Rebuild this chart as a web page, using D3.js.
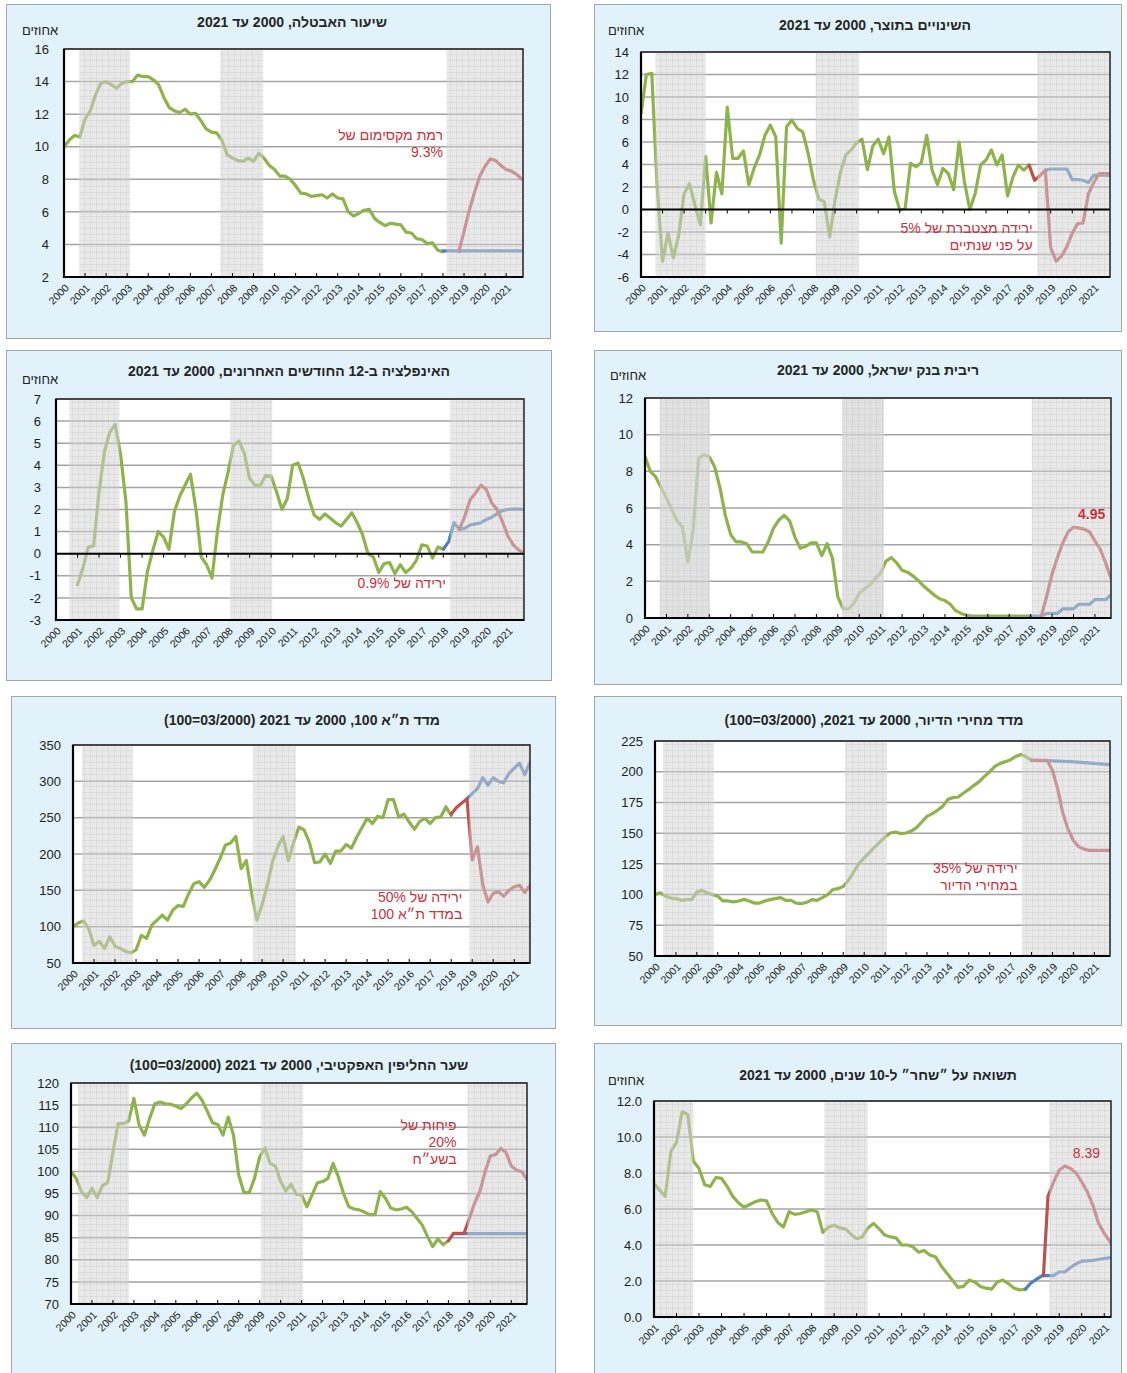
<!DOCTYPE html>
<html>
<head>
<meta charset="utf-8">
<script src="https://cdn.jsdelivr.net/npm/d3@7"></script>
<style>
  body { margin: 0; background: #fff; }
  svg text { font-family: "Liberation Sans", Arial, "DejaVu Sans", sans-serif; }
</style>
</head>
<body>
<svg id="chart" width="1127" height="1373"></svg>
<script>
// ---- data: [year, value] ----
const yearTicks = [2000, 2001, 2002, 2003, 2004, 2005, 2006, 2007, 2008, 2009, 2010,
  2011, 2012, 2013, 2014, 2015, 2016, 2017, 2018, 2019, 2020, 2021];
const yearTicksFrom2001 = yearTicks.slice(1);

// unemployment rate
const unempHist = [[2000,10.0],[2000.25,10.4],[2000.5,10.7],[2000.75,10.6],[2001,11.7],[2001.25,12.2],[2001.5,13.2],[2001.75,13.9],
  [2002,14.0],[2002.25,13.8],[2002.5,13.6],[2002.75,13.9],[2003,14.0],[2003.25,14.0],[2003.5,14.4],[2003.75,14.3],
  [2004,14.3],[2004.25,14.1],[2004.5,13.8],[2004.75,13.0],[2005,12.4],[2005.25,12.2],[2005.5,12.1],[2005.75,12.3],
  [2006,12.0],[2006.25,12.05],[2006.5,11.6],[2006.75,11.1],[2007,10.9],[2007.25,10.85],[2007.5,10.4],[2007.75,9.5],
  [2008,9.3],[2008.25,9.15],[2008.5,9.1],[2008.75,9.3],[2009,9.1],[2009.25,9.6],[2009.5,9.3],[2009.75,8.85],
  [2010,8.6],[2010.25,8.2],[2010.5,8.2],[2010.75,8.0],[2011,7.6],[2011.25,7.15],[2011.5,7.1],[2011.75,6.95],
  [2012,7.0],[2012.25,7.05],[2012.5,6.85],[2012.75,7.1],[2013,6.85],[2013.25,6.8],[2013.5,6.0],[2013.75,5.75],
  [2014,5.9],[2014.25,6.1],[2014.5,6.15],[2014.75,5.6],[2015,5.35],[2015.25,5.15],[2015.5,5.3],[2015.75,5.25],
  [2016,5.2],[2016.25,4.75],[2016.5,4.7],[2016.75,4.35],[2017,4.3],[2017.25,4.05],[2017.5,4.1],[2017.75,3.65],[2018,3.55]];
const unempBase = [[2018,3.6],[2021.75,3.6]];
const unempStress = [[2018.75,3.55],[2019,4.8],[2019.25,6.1],[2019.5,7.2],[2019.75,8.2],[2020,8.8],[2020.25,9.25],
  [2020.5,9.15],[2020.75,8.85],[2021,8.6],[2021.25,8.5],[2021.5,8.3],[2021.75,8.0]];

// GDP change
const gdpHist = [[2000,8.5],[2000.25,12.0],[2000.5,12.1],[2000.75,2.0],[2001,-4.6],[2001.25,-2.1],[2001.5,-4.3],[2001.75,-2.25],
  [2002,1.4],[2002.25,2.3],[2002.5,0.4],[2002.75,-1.35],[2003,4.7],[2003.25,-1.2],[2003.5,3.3],[2003.75,1.4],
  [2004,9.1],[2004.25,4.55],[2004.5,4.55],[2004.75,5.2],[2005,2.2],[2005.25,3.7],[2005.5,4.85],[2005.75,6.6],
  [2006,7.5],[2006.25,6.45],[2006.5,-3.0],[2006.75,7.35],[2007,7.95],[2007.25,7.2],[2007.5,6.9],[2007.75,5.0],
  [2008,2.6],[2008.25,0.9],[2008.5,0.7],[2008.75,-2.45],[2009,0.85],[2009.25,3.3],[2009.5,4.85],[2009.75,5.3],
  [2010,5.95],[2010.25,6.25],[2010.5,3.55],[2010.75,5.65],[2011,6.25],[2011.25,4.95],[2011.5,6.45],[2011.75,1.6],
  [2012,-0.05],[2012.25,0.1],[2012.5,4.1],[2012.75,3.8],[2013,4.15],[2013.25,6.6],[2013.5,3.5],[2013.75,2.2],
  [2014,3.65],[2014.25,3.2],[2014.5,1.75],[2014.75,6.0],[2015,2.45],[2015.25,0.0],[2015.5,1.45],[2015.75,3.95],
  [2016,4.4],[2016.25,5.3],[2016.5,3.95],[2016.75,4.85],[2017,1.2],[2017.25,2.9],[2017.5,3.95],[2017.75,3.5],[2018,3.95]];
const gdpBase = [[2018.75,3.5],[2019,3.6],[2019.25,3.6],[2019.5,3.6],[2019.75,3.6],[2020,2.65],[2020.25,2.65],
  [2020.5,2.6],[2020.75,2.4],[2021,3.05],[2021.25,3.05],[2021.5,3.05],[2021.75,3.0]];
const gdpStress = [[2018,3.95],[2018.25,2.6],[2018.5,3.0],[2018.75,3.5],[2019,-3.4],[2019.25,-4.6],[2019.5,-4.15],
  [2019.75,-3.3],[2020,-2.1],[2020.25,-1.25],[2020.5,-1.2],[2020.75,1.4],[2021,2.4],[2021.25,3.2],[2021.5,3.2],[2021.75,3.2]];

// inflation, last 12 months
const inflHist = [[2001,-1.4],[2001.25,-0.65],[2001.5,0.3],[2001.75,0.35],[2002,2.8],[2002.25,4.6],[2002.5,5.5],[2002.75,5.85],
  [2003,4.5],[2003.25,2.35],[2003.5,-2.0],[2003.75,-2.5],[2004,-2.5],[2004.25,-0.8],[2004.5,0.15],[2004.75,1.0],
  [2005,0.75],[2005.25,0.2],[2005.5,1.9],[2005.75,2.6],[2006,3.1],[2006.25,3.6],[2006.5,2.05],[2006.75,-0.15],
  [2007,-0.5],[2007.25,-1.1],[2007.5,1.0],[2007.75,2.65],[2008,3.7],[2008.25,4.9],[2008.5,5.1],[2008.75,4.55],
  [2009,3.4],[2009.25,3.1],[2009.5,3.1],[2009.75,3.55],[2010,3.5],[2010.25,2.8],[2010.5,2.0],[2010.75,2.5],
  [2011,4.0],[2011.25,4.1],[2011.5,3.4],[2011.75,2.5],[2012,1.75],[2012.25,1.55],[2012.5,1.8],[2012.75,1.6],
  [2013,1.4],[2013.25,1.25],[2013.5,1.55],[2013.75,1.85],[2014,1.4],[2014.25,0.85],[2014.5,0.0],[2014.75,-0.15],
  [2015,-0.85],[2015.25,-0.45],[2015.5,-0.4],[2015.75,-0.9],[2016,-0.5],[2016.25,-0.85],[2016.5,-0.65],[2016.75,-0.3],
  [2017,0.4],[2017.25,0.35],[2017.5,-0.2],[2017.75,0.3],[2018,0.2]];
const inflBase = [[2018,0.2],[2018.25,0.55],[2018.5,1.4],[2018.75,1.1],[2019,1.15],[2019.25,1.3],[2019.5,1.35],[2019.75,1.4],
  [2020,1.55],[2020.25,1.65],[2020.5,1.8],[2020.75,1.95],[2021,2.0],[2021.25,2.02],[2021.5,2.02],[2021.75,2.0]];
const inflStress = [[2018.75,1.1],[2019,1.7],[2019.25,2.45],[2019.5,2.75],[2019.75,3.1],[2020,2.9],[2020.25,2.3],
  [2020.5,2.0],[2020.75,1.45],[2021,0.8],[2021.25,0.4],[2021.5,0.17],[2021.75,0.02]];

// Bank of Israel rate
const rateHist = [[2000,8.8],[2000.25,8.0],[2000.5,7.7],[2000.75,7.1],[2001,6.55],[2001.25,5.9],[2001.5,5.3],[2001.75,4.95],
  [2002,3.05],[2002.25,4.8],[2002.5,8.7],[2002.75,8.9],[2003,8.8],[2003.25,8.25],[2003.5,7.1],[2003.75,5.6],
  [2004,4.55],[2004.25,4.15],[2004.5,4.15],[2004.75,4.05],[2005,3.6],[2005.25,3.6],[2005.5,3.6],[2005.75,4.15],
  [2006,4.9],[2006.25,5.35],[2006.5,5.6],[2006.75,5.3],[2007,4.4],[2007.25,3.8],[2007.5,3.9],[2007.75,4.1],
  [2008,4.1],[2008.25,3.4],[2008.5,4.05],[2008.75,3.25],[2009,1.15],[2009.25,0.5],[2009.5,0.5],[2009.75,0.8],
  [2010,1.35],[2010.25,1.6],[2010.5,1.8],[2010.75,2.15],[2011,2.45],[2011.25,3.1],[2011.5,3.3],[2011.75,3.0],
  [2012,2.6],[2012.25,2.5],[2012.5,2.3],[2012.75,2.05],[2013,1.75],[2013.25,1.5],[2013.5,1.25],[2013.75,1.05],
  [2014,0.95],[2014.25,0.75],[2014.5,0.4],[2014.75,0.25],[2015,0.15],[2015.25,0.1],[2016,0.1],[2017,0.1],[2018,0.1]];
const rateBase = [[2018,0.1],[2018.5,0.1],[2018.75,0.25],[2019.25,0.25],[2019.5,0.5],[2020,0.5],[2020.25,0.75],
  [2020.75,0.75],[2021,1.0],[2021.5,1.0],[2021.75,1.25]];
const rateStress = [[2018.5,0.1],[2018.75,1.2],[2019,2.4],[2019.25,3.3],[2019.5,4.1],[2019.75,4.7],[2020,4.95],
  [2020.25,4.9],[2020.5,4.85],[2020.75,4.7],[2021,4.2],[2021.25,3.75],[2021.5,3.0],[2021.75,2.15]];

// TA-100 index
const taHist = [[2000,100],[2000.25,105],[2000.5,108],[2000.75,97],[2001,74],[2001.25,80],[2001.5,70],[2001.75,86],
  [2002,73],[2002.25,70],[2002.5,66],[2002.75,64],[2003,68],[2003.25,88],[2003.5,84],[2003.75,102],
  [2004,109],[2004.25,116],[2004.5,109],[2004.75,123],[2005,129],[2005.25,128],[2005.5,145],[2005.75,159],
  [2006,162],[2006.25,154],[2006.5,164],[2006.75,178],[2007,194],[2007.25,212],[2007.5,215],[2007.75,224],
  [2008,180],[2008.25,191],[2008.5,146],[2008.75,109],[2009,130],[2009.25,157],[2009.5,190],[2009.75,210],
  [2010,224],[2010.25,191],[2010.5,216],[2010.75,237],[2011,233],[2011.25,216],[2011.5,188],[2011.75,189],
  [2012,200],[2012.25,187],[2012.5,204],[2012.75,204],[2013,213],[2013.25,208],[2013.5,223],[2013.75,236],
  [2014,249],[2014.25,242],[2014.5,252],[2014.75,250],[2015,275],[2015.25,275],[2015.5,251],[2015.75,255],
  [2016,244],[2016.25,234],[2016.5,245],[2016.75,249],[2017,242],[2017.25,250],[2017.5,251],[2017.75,265],[2018,253]];
const taBase = [[2018.75,276],[2019,283],[2019.25,290],[2019.5,305],[2019.75,295],[2020,305],[2020.25,300],
  [2020.5,298],[2020.75,311],[2021,318],[2021.25,325],[2021.5,309],[2021.75,326]];
const taStress = [[2018,255],[2018.25,264],[2018.5,270],[2018.75,276],[2019,192],[2019.25,210],[2019.5,158],
  [2019.75,134],[2020,146],[2020.25,148],[2020.5,142],[2020.75,150],[2021,155],[2021.25,157],[2021.5,147],[2021.75,157]];

// housing price index
const houseHist = [[2000,100],[2000.25,101.5],[2000.5,98.6],[2000.75,97.2],[2001,96.7],[2001.25,95.3],[2001.5,95.9],[2001.75,95.9],
  [2002,102],[2002.25,103.4],[2002.5,101.3],[2002.75,99.9],[2003,98.6],[2003.25,94.8],[2003.5,94.8],[2003.75,94],
  [2004,94.8],[2004.25,96.1],[2004.5,94.8],[2004.75,93.1],[2005,93.1],[2005.25,94.8],[2005.5,95.9],[2005.75,96.7],
  [2006,97.5],[2006.25,95.3],[2006.5,95.3],[2006.75,93.1],[2007,92.6],[2007.25,93.7],[2007.5,95.9],[2007.75,95.3],
  [2008,97.5],[2008.25,99.9],[2008.5,104],[2008.75,104.8],[2009,106.7],[2009.25,111.6],[2009.5,118.4],[2009.75,125.2],
  [2010,129.8],[2010.25,134.1],[2010.5,138.7],[2010.75,142.8],[2011,146.9],[2011.25,150.1],[2011.5,150.9],[2011.75,149.6],
  [2012,150.1],[2012.25,151.7],[2012.5,154.5],[2012.75,159.1],[2013,163.7],[2013.25,165.9],[2013.5,168.6],[2013.75,171.8],
  [2014,177.5],[2014.25,178.9],[2014.5,179.4],[2014.75,182.7],[2015,185.6],[2015.25,188.9],[2015.5,191.9],[2015.75,196.2],
  [2016,200],[2016.25,204.4],[2016.5,206.8],[2016.75,208.2],[2017,209.8],[2017.25,212.5],[2017.5,214.1],[2017.75,212],[2018,209.3]];
const houseBase = [[2018,209.3],[2019,208.8],[2020,208],[2021,206.8],[2021.75,205.7]];
const houseStress = [[2018,209.3],[2018.25,209.3],[2018.5,209.3],[2018.75,209.3],[2019,201],[2019.25,186],[2019.5,166],
  [2019.75,153],[2020,144],[2020.25,139],[2020.5,137],[2020.75,136],[2021,136],[2021.75,136]];

// effective exchange rate
const fxHist = [[2000,100],[2000.25,98.4],[2000.5,95.4],[2000.75,94.1],[2001,96.2],[2001.25,94.1],[2001.5,96.8],[2001.75,97.4],
  [2002,104.4],[2002.25,110.8],[2002.5,110.8],[2002.75,111.4],[2003,116.5],[2003.25,110.5],[2003.5,108.2],[2003.75,112],
  [2004,115.3],[2004.25,115.7],[2004.5,115.3],[2004.75,115.2],[2005,114.8],[2005.25,114.2],[2005.5,115.3],[2005.75,116.6],
  [2006,117.7],[2006.25,116.1],[2006.5,113.6],[2006.75,111],[2007,110.6],[2007.25,108.2],[2007.5,112.3],[2007.75,108.2],
  [2008,99.2],[2008.25,95.2],[2008.5,95.2],[2008.75,98.4],[2009,103.3],[2009.25,105.3],[2009.5,101.8],[2009.75,101.2],
  [2010,97.7],[2010.25,95.6],[2010.5,97.1],[2010.75,94.8],[2011,94.7],[2011.25,92],[2011.5,94.7],[2011.75,97.4],
  [2012,97.7],[2012.25,98.4],[2012.5,101.8],[2012.75,98.8],[2013,95],[2013.25,92],[2013.5,91.5],[2013.75,91.3],
  [2014,90.8],[2014.25,90.2],[2014.5,90.2],[2014.75,95.4],[2015,93.9],[2015.25,91.7],[2015.5,91.3],[2015.75,91.5],
  [2016,91.9],[2016.25,90.9],[2016.5,89.4],[2016.75,87.9],[2017,85.3],[2017.25,83],[2017.5,84.7],[2017.75,83.4],[2018,84.3]];
const fxBase = [[2018.25,85.9],[2021.75,85.9]];
const fxStress = [[2018,84.3],[2018.25,86],[2018.75,86],[2019,89.4],[2019.25,92.8],[2019.5,95.4],[2019.75,99.9],
  [2020,103.5],[2020.25,103.8],[2020.5,105.2],[2020.75,104.3],[2021,101.2],[2021.25,100.3],[2021.5,99.9],[2021.75,98.2]];

// 10-year Shachar yield
const yieldHist = [[2001,7.4],[2001.25,7.05],[2001.5,6.7],[2001.75,9.2],[2002,9.7],[2002.25,11.4],[2002.5,11.25],[2002.75,8.65],
  [2003,8.25],[2003.25,7.35],[2003.5,7.25],[2003.75,7.75],[2004,7.7],[2004.25,7.25],[2004.5,6.7],[2004.75,6.35],
  [2005,6.1],[2005.25,6.25],[2005.5,6.4],[2005.75,6.5],[2006,6.45],[2006.25,5.75],[2006.5,5.25],[2006.75,5.0],
  [2007,5.85],[2007.25,5.7],[2007.5,5.75],[2007.75,5.85],[2008,5.95],[2008.25,5.85],[2008.5,4.7],[2008.75,5.0],
  [2009,5.1],[2009.25,4.95],[2009.5,4.9],[2009.75,4.6],[2010,4.35],[2010.25,4.45],[2010.5,4.95],[2010.75,5.2],
  [2011,4.9],[2011.25,4.55],[2011.5,4.45],[2011.75,4.4],[2012,4.0],[2012.25,4.0],[2012.5,3.9],[2012.75,3.6],
  [2013,3.7],[2013.25,3.45],[2013.5,3.35],[2013.75,2.85],[2014,2.45],[2014.25,2.05],[2014.5,1.65],[2014.75,1.7],
  [2015,2.05],[2015.25,1.95],[2015.5,1.7],[2015.75,1.6],[2016,1.55],[2016.25,1.95],[2016.5,2.05],[2016.75,1.85],
  [2017,1.6],[2017.25,1.5],[2017.5,1.55]];
const yieldBase = [[2017.5,1.55],[2017.75,1.9],[2018,2.1],[2018.25,2.3],[2018.75,2.3],[2019,2.5],[2019.25,2.5],
  [2019.5,2.75],[2019.75,2.95],[2020,3.1],[2020.5,3.15],[2021,3.25],[2021.3,3.3]];
const yieldStress = [[2018.3,2.3],[2018.5,6.7],[2018.75,7.5],[2019,8.15],[2019.25,8.39],[2019.5,8.25],[2019.75,8.0],
  [2020,7.5],[2020.25,6.95],[2020.5,6.2],[2020.75,5.2],[2021,4.65],[2021.3,4.1]];

// ---- styling ----
const GREEN = "#8db34b", RED = "#c0504d", BLUE = "#4f81bd", NOTE = "#c8323c";

const svg = d3.select("#chart");
svg.append("rect").attr("width", 1127).attr("height", 1373).attr("fill", "#fff");

const defs = svg.append("defs");
const pat = defs.append("pattern")
  .attr("id", "hatch").attr("width", 6).attr("height", 6)
  .attr("patternUnits", "userSpaceOnUse");
pat.append("path").attr("d", "M6 0H0V6")
  .attr("fill", "none").attr("stroke", "#bdbdbd").attr("stroke-width", 0.8);

const panels = [
  { box: [6, 4, 550, 338], plot: [64, 49, 523, 277], title: "שיעור האבטלה, 2000 עד 2021", titleAt: [292, 27],
    unitAt: [40, 35], xDomain: [2000, 2021.8], xTicks: yearTicks, yTicks: [2, 4, 6, 8, 10, 12, 14, 16], gap: 15,
    bands: [[2000.72, 2003.14], [2007.42, 2009.46], [2018.17, 2021.8]],
    series: [[unempHist, GREEN], [unempBase, BLUE], [unempStress, RED]],
    notes: [{ at: [2018.0, 10.41], lines: ["רמת מקסימום של", "9.3%"] }] },
  { box: [594, 4, 1121, 331], plot: [641, 52, 1110, 277], title: "השינויים בתוצר, 2000 עד 2021", titleAt: [875, 30],
    unitAt: [626, 35], xDomain: [2000, 2021.75], xTicks: yearTicks, yTicks: [-6, -4, -2, 0, 2, 4, 6, 8, 10, 12, 14], gap: 12,
    zero: true, bands: [[2000.67, 2003.0], [2008.1, 2010.1], [2018.38, 2021.75]],
    series: [[gdpHist, GREEN], [gdpBase, BLUE], [gdpStress, RED]],
    notes: [{ at: [2018.16, -2.07], lines: ["ירידה מצטברת של 5%", "על פני שנתיים"] }] },
  { box: [6, 350, 551, 680], plot: [56, 399, 524, 620], title: "האינפלציה ב-12 החודשים האחרונים, 2000 עד 2021", titleAt: [289, 376],
    unitAt: [40, 384], xDomain: [2000, 2021.75], xTicks: yearTicks, yTicks: [-3, -2, -1, 0, 1, 2, 3, 4, 5, 6, 7], gap: 15,
    zero: true, bands: [[2000.62, 2002.95], [2008.09, 2010.05], [2018.33, 2021.75]],
    series: [[inflHist, GREEN], [inflBase, BLUE], [inflStress, RED]],
    notes: [{ at: [2018.12, -1.55], lines: ["ירידה של 0.9%"] }] },
  { box: [594, 350, 1121, 684], plot: [645, 398, 1111, 618], title: "ריבית בנק ישראל, 2000 עד 2021", titleAt: [878, 375],
    unitAt: [628, 380], xDomain: [2000, 2021.75], xTicks: yearTicks, yTicks: [0, 2, 4, 6, 8, 10, 12], gap: 12,
    bands: [[2000.69, 2003.03, 0.7], [2009.19, 2011.15, 0.7], [2018.05, 2021.75]],
    series: [[rateHist, GREEN], [rateBase, BLUE], [rateStress, RED]],
    notes: [{ at: [2020.85, 5.4], lines: ["4.95"], center: true, bold: true }] },
  { box: [11, 696, 555, 1028], plot: [73, 745, 530, 963], title: "מדד ת״א 100, 2000 עד 2021 (03/2000=100)", titleAt: [302, 725],
    xDomain: [2000, 2021.75], xTicks: yearTicks, yTicks: [50, 100, 150, 200, 250, 300, 350], gap: 12,
    bands: [[2000.43, 2002.84], [2008.56, 2010.6], [2018.86, 2021.75]],
    series: [[taHist, GREEN], [taBase, BLUE], [taStress, RED]],
    notes: [{ at: [2018.53, 133.7], lines: ["ירידה של 50%", "במדד ת״א 100"] }] },
  { box: [594, 696, 1121, 1025], plot: [655, 741, 1110, 956], title: "מדד מחירי הדיור, 2000 עד 2021, (03/2000=100)", titleAt: [874, 725],
    xDomain: [2000, 2021.75], xTicks: yearTicks, yTicks: [50, 75, 100, 125, 150, 175, 200, 225], gap: 12,
    bands: [[2000.38, 2002.81], [2009.08, 2011.09], [2017.53, 2021.75]],
    series: [[houseHist, GREEN], [houseBase, BLUE], [houseStress, RED]],
    notes: [{ at: [2017.33, 117.3], lines: ["ירידה של 35%", "במחירי הדיור"] }] },
  { box: [11, 1043, 555, 1390], plot: [71, 1083, 527, 1304], title: "שער החליפין האפקטיבי, 2000 עד 2021 (03/2000=100)", titleAt: [299, 1070],
    xDomain: [2000, 2021.75], xTicks: yearTicks, yTicks: [70, 75, 80, 85, 90, 95, 100, 105, 110, 115, 120], gap: 12,
    bands: [[2000.34, 2002.76], [2009.06, 2011.07], [2018.91, 2021.75]],
    series: [[fxHist, GREEN], [fxBase, BLUE], [fxStress, RED]],
    notes: [{ at: [2018.39, 109.3], lines: ["פיחות של", "20%", "בשע״ח"] }] },
  { box: [594, 1043, 1121, 1390], plot: [654, 1101, 1111, 1317], title: "תשואה על ״שחר״ ל-10 שנים, 2000 עד 2021", titleAt: [878, 1080],
    unitAt: [626, 1085], xDomain: [2001, 2021.3], xTicks: yearTicksFrom2001, yTicks: [0, 2, 4, 6, 8, 10, 12], gap: 12,
    yFormat: d3.format(".1f"),
    bands: [[2001.05, 2002.75], [2008.57, 2010.49], [2018.57, 2021.3]],
    series: [[yieldHist, GREEN], [yieldBase, BLUE], [yieldStress, RED]],
    notes: [{ at: [2020.21, 8.83], lines: ["8.39"], center: true }] }
];

panels.forEach((p, i) => drawPanel(p, i));

function drawPanel(p, i) {
  const g = svg.append("g");
  const [bx0, by0, bx1, by1] = p.box;
  const [px0, py0, px1, py1] = p.plot;

  g.append("rect")
    .attr("x", bx0 + 0.5).attr("y", by0 + 0.5)
    .attr("width", bx1 - bx0).attr("height", by1 - by0)
    .attr("fill", "#e1f2fa").attr("stroke", "#9ea7ab").attr("stroke-width", 1);

  const x = d3.scaleLinear().domain(p.xDomain).range([px0, px1]);
  const y = d3.scaleLinear().domain(d3.extent(p.yTicks)).range([py1, py0]);
  const fmt = p.yFormat || (d => d);

  g.append("rect")
    .attr("x", px0).attr("y", py0).attr("width", px1 - px0).attr("height", py1 - py0)
    .attr("fill", "#fff");

  // horizontal grid
  g.selectAll(".grid")
    .data(p.yTicks.filter(v => !(p.zero && v === 0)))
    .enter().append("line")
    .attr("x1", px0).attr("x2", px1)
    .attr("y1", d => y(d)).attr("y2", d => y(d))
    .attr("stroke", "#a3a3a3").attr("stroke-width", 1.5);

  // series
  g.append("clipPath").attr("id", "clip" + i)
    .append("rect").attr("x", px0).attr("y", py0 - 2).attr("width", px1 - px0).attr("height", py1 - py0 + 4);
  const line = d3.line().x(d => x(d[0])).y(d => y(d[1]));
  g.append("g").attr("clip-path", `url(#clip${i})`)
    .selectAll("path")
    .data(p.series)
    .enter().append("path")
    .attr("d", d => line(d[0]))
    .attr("fill", "none")
    .attr("stroke", d => d[1])
    .attr("stroke-width", 3.2)
    .attr("stroke-linejoin", "round")
    .attr("stroke-linecap", "round");

  // crisis / scenario bands drawn over the lines
  p.bands.forEach(b => {
    const bx = x(b[0]), bw = x(Math.min(b[1], p.xDomain[1])) - bx;
    g.append("rect").attr("x", bx).attr("y", py0).attr("width", bw).attr("height", py1 - py0)
      .attr("fill", "#d4d4d4").attr("opacity", b[2] || 0.5);
    g.append("rect").attr("x", bx).attr("y", py0).attr("width", bw).attr("height", py1 - py0)
      .attr("fill", "url(#hatch)").attr("opacity", 0.6);
  });

  // zero line and frame
  if (p.zero) {
    g.append("line").attr("x1", px0).attr("x2", px1).attr("y1", y(0)).attr("y2", y(0))
      .attr("stroke", "#000").attr("stroke-width", 2);
  }
  g.append("rect")
    .attr("x", px0).attr("y", py0).attr("width", px1 - px0).attr("height", py1 - py0)
    .attr("fill", "none").attr("stroke", "#222").attr("stroke-width", 1.5);
  g.append("line").attr("x1", px0).attr("x2", px0).attr("y1", py0).attr("y2", py1 + 1)
    .attr("stroke", "#000").attr("stroke-width", 2.2);
  g.append("line").attr("x1", px0 - 1).attr("x2", px1).attr("y1", py1).attr("y2", py1)
    .attr("stroke", "#000").attr("stroke-width", 2.2);

  // year ticks
  const tickY = p.zero ? y(0) : py1;
  g.selectAll(".xt")
    .data(p.xTicks)
    .enter().append("line")
    .attr("x1", d => x(d)).attr("x2", d => x(d))
    .attr("y1", tickY).attr("y2", p.zero ? tickY + 4 : tickY - 4)
    .attr("stroke", "#000").attr("stroke-width", 1);

  // y labels
  g.selectAll(".yl")
    .data(p.yTicks)
    .enter().append("text")
    .attr("x", px0 - p.gap).attr("y", d => y(d)).attr("dy", "0.36em")
    .attr("text-anchor", "end").attr("font-size", 13).attr("fill", "#222")
    .text(fmt);

  // x labels
  g.selectAll(".xl")
    .data(p.xTicks)
    .enter().append("text")
    .attr("transform", d => `translate(${x(d) + 3},${py1 + 9}) rotate(-45)`)
    .attr("dy", "0.35em")
    .attr("text-anchor", "end").attr("font-size", 10.5).attr("fill", "#222")
    .text(d => d);

  // title and unit
  g.append("text")
    .attr("x", p.titleAt[0]).attr("y", p.titleAt[1])
    .attr("direction", "rtl").attr("text-anchor", "middle")
    .attr("font-size", 14).attr("font-weight", "bold").attr("fill", "#262626")
    .text(p.title);
  if (p.unitAt) {
    g.append("text")
      .attr("x", p.unitAt[0]).attr("y", p.unitAt[1])
      .attr("direction", "rtl").attr("text-anchor", "middle")
      .attr("font-size", 13).attr("fill", "#222")
      .text("אחוזים");
  }

  // annotations
  p.notes.forEach(n => {
    const t = g.append("text")
      .attr("x", x(n.at[0])).attr("y", y(n.at[1]))
      .attr("direction", "rtl")
      .attr("text-anchor", n.center ? "middle" : "start")
      .attr("font-size", 14).attr("fill", NOTE)
      .attr("font-weight", n.bold ? "bold" : "normal");
    n.lines.forEach((s, k) => {
      t.append("tspan").attr("x", x(n.at[0])).attr("dy", k === 0 ? 0 : 17).text(s);
    });
  });
}
</script>
</body>
</html>
